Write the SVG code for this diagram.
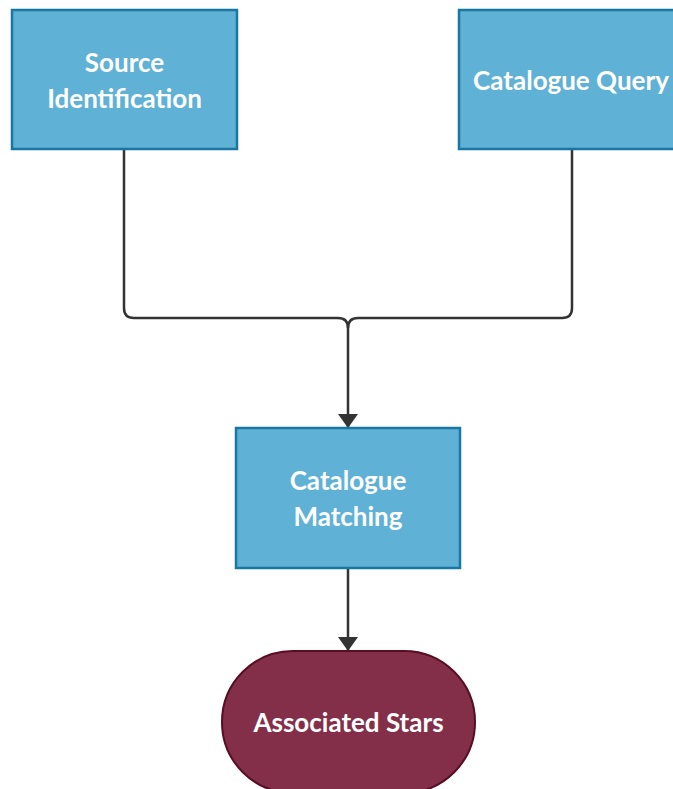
<svg xmlns="http://www.w3.org/2000/svg" width="673" height="789" viewBox="0 0 673 789">
  <style>
    .proc { fill: #60b1d6; stroke: #1877a3; stroke-width: 2.5; }
    .term { fill: #842f4a; stroke: #570d24; stroke-width: 2; }
    .label { font-family: Lato, "Open Sans", "Liberation Sans", sans-serif; font-weight: bold; font-size: 26px; fill: #ffffff; text-anchor: middle; }
    .wire { fill: none; stroke: #333333; stroke-width: 2.5; stroke-linejoin: round; }
  </style>
  <defs>
    <marker id="arrow" viewBox="0 0 14 20" refX="14" refY="10" markerWidth="14" markerHeight="20" markerUnits="userSpaceOnUse" orient="auto">
      <path d="M0,0 L14,10 L0,20 Z" fill="#333333"/>
    </marker>
  </defs>

  <g id="connectors">
    <path class="wire" d="M124,150 V308 Q124,318 134,318 H338 Q348,318 348,328" />
    <path class="wire" d="M572,150 V308 Q572,318 562,318 H358 Q348,318 348,328 V428" marker-end="url(#arrow)" />
    <path class="wire" d="M348,569 V651" marker-end="url(#arrow)" />
  </g>

  <g id="source-identification">
    <rect class="proc" x="12" y="10" width="225" height="139" />
    <text class="label" x="124.5" y="72">Source</text>
    <text class="label" x="124.5" y="108">Identification</text>
  </g>

  <g id="catalogue-query">
    <rect class="proc" x="459" y="10" width="225" height="139" />
    <text class="label" x="571" y="90">Catalogue Query</text>
  </g>

  <g id="catalogue-matching">
    <rect class="proc" x="236" y="428" width="224" height="140" />
    <text class="label" x="348" y="490">Catalogue</text>
    <text class="label" x="348" y="526">Matching</text>
  </g>

  <g id="associated-stars">
    <rect class="term" x="222" y="651" width="253" height="142" rx="71" ry="71" />
    <text class="label" x="348.5" y="732">Associated Stars</text>
  </g>
</svg>
